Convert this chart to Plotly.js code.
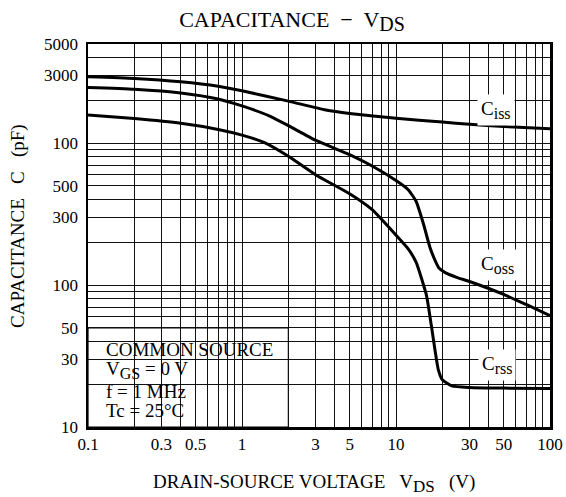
<!DOCTYPE html>
<html><head><meta charset="utf-8">
<script src="https://cdn.plot.ly/plotly-3.0.1.min.js"></script>
<style>html,body{margin:0;padding:0;background:#fff}#chart{width:566px;height:497px}</style>
</head><body><div id="chart"></div>
<script>
// ---- data ----
const cissX = [0.1, 0.2, 0.4, 0.7, 1, 2, 3.5, 5, 10, 20, 30, 50, 100];
const cissY = [2940, 2860, 2710, 2520, 2340, 1980, 1714, 1620, 1497, 1410, 1358, 1310, 1262];

const cossX = [0.1, 0.2, 0.4, 0.7, 1, 1.5, 2, 3, 5, 7, 10, 12, 13.5, 15, 16.6, 17.9, 19, 21, 25, 30, 50, 70, 100];
const cossY = [2470, 2400, 2260, 2050, 1830, 1560, 1330, 1050, 830, 690, 545, 470, 390, 275, 185, 150, 132, 122, 113, 106, 86, 73, 61];

const crssX = [0.1, 0.2, 0.4, 0.7, 1, 1.4, 2, 3, 5, 7, 10, 12, 13.5, 14.7, 15.8, 17, 17.9, 18.8, 20, 23, 30, 50, 100];
const crssY = [1580, 1490, 1380, 1250, 1140, 1010, 810, 600, 440, 340, 225, 180, 145, 110, 84, 51, 35, 25.5, 21.5, 19.5, 19, 18.8, 18.7];

const xGrid = [0.1,0.2,0.3,0.4,0.5,0.6,0.7,0.8,0.9,1,2,3,4,5,6,7,8,9,10,20,30,40,50,60,70,80,90,100];
const xTickLabels = {0.1:'0.1', 0.3:'0.3', 0.5:'0.5', 1:'1', 3:'3', 5:'5', 10:'10', 30:'30', 50:'50', 100:'100'};
const yGrid = [10,20,30,40,50,60,70,80,90,100,200,300,400,500,600,700,800,900,1000,2000,3000,4000,5000];
const yTickLabels = {10:'10', 30:'30', 50:'50', 100:'100', 300:'300', 500:'500', 1000:'100', 3000:'3000', 5000:'5000'};

const sub = (t, s) => '<sub><span style="font-size:' + s + 'px">' + t + '</span></sub>';
const noteLines = ['COMMON SOURCE', 'V' + sub('GS', 16) + ' = 0 V', 'f = 1 MHz', 'Tc = 25°C'];
const seriesLabels = ['C' + sub('iss', 16), 'C' + sub('oss', 16), 'C' + sub('rss', 16)];

// ---- layout helpers (pixel positions of text only) ----
const L = 88, T = 44, W = 462, H = 383;
const px = p => (p - L) / W;
const py = p => (T + H - p) / H;
const FONT = 'Liberation Serif, Times New Roman, serif';

const line = {color: '#000', width: 3, shape: 'spline', smoothing: 0.5};
const traces = [
  {x: cissX, y: cissY, mode: 'lines', line: line, hoverinfo: 'skip'},
  {x: cossX, y: cossY, mode: 'lines', line: line, hoverinfo: 'skip'},
  {x: crssX, y: crssY, mode: 'lines', line: line, hoverinfo: 'skip'}
];

const annotations = [];
const labelPos = [[496, 110], [497, 265], [497, 365]];
seriesLabels.forEach((t, i) => annotations.push({
  text: t, xref: 'paper', yref: 'paper', x: px(labelPos[i][0]), y: py(labelPos[i][1]),
  xanchor: 'center', yanchor: 'middle', showarrow: false, bgcolor: '#fff', borderpad: 3,
  font: {family: FONT, size: 19, color: '#000'}
}));
const noteY = [349, 370, 391, 410];
noteLines.forEach((t, i) => annotations.push({
  text: t, xref: 'paper', yref: 'paper', x: px(104), y: py(noteY[i]),
  xanchor: 'left', yanchor: 'middle', showarrow: false,
  font: {family: FONT, size: 19, color: '#000'}
}));
annotations.push({
  text: 'DRAIN-SOURCE VOLTAGE\u00a0\u00a0 V' + sub('DS', 17) + '\u00a0\u00a0 (V)', xref: 'paper', yref: 'paper',
  x: px(314), y: py(483), xanchor: 'center', yanchor: 'middle', showarrow: false,
  font: {family: FONT, size: 19, color: '#000'}
});
annotations.push({
  text: 'CAPACITANCE\u00a0\u00a0 C\u00a0\u00a0 (pF)', xref: 'paper', yref: 'paper', textangle: -90,
  x: px(18), y: py(226), xanchor: 'center', yanchor: 'middle', showarrow: false,
  font: {family: FONT, size: 19, color: '#000'}
});

const layout = {
  width: 566, height: 497,
  margin: {l: L, r: 566 - L - W, t: T, b: 497 - T - H, pad: 0},
  paper_bgcolor: '#fff', plot_bgcolor: '#fff',
  showlegend: false,
  title: {text: 'CAPACITANCE \u00a0\u2212\u00a0 V' + sub('DS', 20), xref: 'paper', x: px(292), xanchor: 'center',
          yref: 'container', y: 1 - 19 / 497, yanchor: 'middle',
          font: {family: FONT, size: 22, color: '#000'}},
  xaxis: {
    type: 'log', range: [-1, 2], tickmode: 'array', tickvals: xGrid,
    ticktext: xGrid.map(v => xTickLabels[v] || ''),
    showgrid: true, gridcolor: '#111', gridwidth: 1, zeroline: false,
    showline: true, mirror: true, linecolor: '#000', linewidth: 2.5, ticks: '',
    tickfont: {family: FONT, size: 17, color: '#000'}, fixedrange: true
  },
  yaxis: {
    type: 'log', range: [1, Math.log10(5000)], tickmode: 'array', tickvals: yGrid,
    ticktext: yGrid.map(v => yTickLabels[v] || ''),
    showgrid: true, gridcolor: '#111', gridwidth: 1, zeroline: false,
    showline: true, mirror: true, linecolor: '#000', linewidth: 2.5, ticks: '',
    ticklabelstandoff: 4,
    tickfont: {family: FONT, size: 17, color: '#000'}, fixedrange: true
  },
  shapes: [{
    type: 'rect', xref: 'paper', yref: 'paper', layer: 'between',
    x0: 0, x1: (Math.log10(2) + 1) / 3, y0: 0, y1: (Math.log10(50) - 1) / Math.log10(500),
    fillcolor: '#fff', line: {color: '#000', width: 1.2}
  }],
  annotations: annotations
};

Plotly.newPlot('chart', traces, layout, {staticPlot: true, displayModeBar: false});
</script>
</body></html>
